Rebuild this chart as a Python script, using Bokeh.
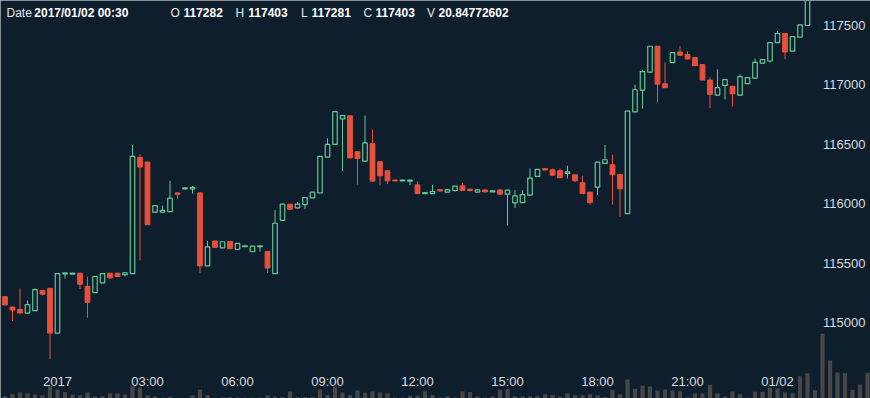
import datetime as dt
import pandas as pd
from bokeh.plotting import figure
from bokeh.models import ColumnDataSource, Range1d, Label, LabelSet
from bokeh.core.properties import value
from bokeh.embed import file_html
from bokeh.resources import INLINE

# ---------------- data (15-minute candles, first candle 2016-12-31 22:15) ----------------
first_candle = "2016-12-31 22:15"

opens = [115221, 115134, 115114, 115083, 115103, 115274, 115291,
         114915, 115412, 115410, 115418, 115308, 115255, 115336, 115418, 115418, 115405,
         115415, 116390, 116351, 115930, 115930, 115935, 116092, 116125, 116125, 116092,
         115479, 115688, 115631, 115685, 115618, 115640, 115598, 115640, 115601, 115415,
         115862, 115997, 115966, 115994, 116050, 116092, 116393, 116499, 116713, 116739,
         116438, 116359, 116505, 116354, 116278, 116200, 116192, 116190, 116160, 116086,
         116086, 116120, 116098, 116112, 116151, 116123, 116098, 116117, 116100, 116117,
         116081, 116008, 116010, 116073, 116230, 116297, 116286, 116278, 116255, 116244,
         116177, 116098, 116140, 116339, 116328, 116247, 115918, 116772, 116955, 117106,
         117323, 117008, 117186, 117275, 117253, 117228, 117169, 117039, 116912, 116994,
         116986, 116912, 117009, 117056, 117182, 117199, 117354, 117430, 117282, 117399,
         117497]
highs = [115225, 115136, 115291, 115190, 115291, 115276, 115293,
         115418, 115420, 115418, 115420, 115390, 115392, 115418, 115420, 115420, 115420,
         116494, 116418, 116353, 115987, 115985, 116193, 116094, 116137, 116150, 116094,
         115688, 115690, 115684, 115687, 115670, 115650, 115647, 115650, 115603, 115949,
         115999, 115999, 116016, 116055, 116100, 116400, 116550, 116777, 116747, 116741,
         116440, 116741, 116623, 116356, 116280, 116202, 116202, 116202, 116188, 116096,
         116160, 116122, 116122, 116151, 116176, 116125, 116119, 116119, 116111, 116119,
         116117, 116115, 116115, 116297, 116291, 116299, 116297, 116295, 116320, 116246,
         116236, 116100, 116353, 116494, 116413, 116249, 116780, 117000, 117121, 117325,
         117325, 117186, 117272, 117326, 117281, 117230, 117171, 117062, 117129, 117044,
         116994, 117087, 117061, 117219, 117213, 117356, 117452, 117432, 117403, 117505,
         117850]
lows = [115150, 115016, 115080, 115080, 115100, 115232, 114695,
        114913, 115373, 115408, 115285, 115044, 115253, 115334, 115373, 115388, 115390,
        115413, 115525, 115823, 115928, 115928, 115933, 116042, 116123, 116087, 115420,
        115477, 115633, 115629, 115621, 115616, 115638, 115596, 115598, 115420, 115413,
        115860, 115953, 115960, 115955, 116048, 116090, 116391, 116497, 116275, 116383,
        116162, 116353, 116189, 116154, 116166, 116190, 116190, 116157, 116084, 116084,
        116084, 116100, 116096, 116103, 116110, 116103, 116096, 116098, 116098, 116079,
        115817, 115966, 116008, 116071, 116228, 116282, 116239, 116217, 116213, 116185,
        116084, 115994, 116075, 116334, 115994, 115890, 115916, 116770, 116800, 117104,
        116853, 116973, 117184, 117245, 117214, 117158, 117037, 116803, 116910, 116876,
        116817, 116910, 117007, 117054, 117174, 117186, 117352, 117216, 117281, 117397,
        117495]
closes = [115151, 115108, 115083, 115154, 115280, 115241, 114915,
          115415, 115420, 115418, 115325, 115173, 115390, 115415, 115378, 115390, 115420,
          116398, 116309, 115825, 115985, 115945, 116048, 116080, 116135, 116138, 115479,
          115639, 115635, 115682, 115623, 115668, 115648, 115645, 115648, 115462, 115837,
          115997, 115955, 115997, 116053, 116098, 116398, 116499, 116775, 116741, 116385,
          116381, 116511, 116191, 116235, 116193, 116192, 116200, 116200, 116086, 116094,
          116103, 116109, 116120, 116149, 116112, 116112, 116117, 116100, 116109, 116081,
          116115, 116067, 116078, 116216, 116289, 116284, 116241, 116219, 116269, 116193,
          116086, 116010, 116351, 116370, 116244, 116126, 116778, 116958, 117110, 117323,
          117005, 116975, 117270, 117247, 117216, 117160, 117039, 116918, 116975, 117042,
          116924, 117068, 117059, 117188, 117211, 117354, 117430, 117275, 117403, 117503,
          117820]
volumes = [9.0, 17.7, 23.6, 19.7, 15.7, 11.8, 49.1,
           35.4, 25.5, 14.5, 12.6, 22.4, 7.9, 9.0, 19.7, 19.7, 15.7,
           47.2, 43.2, 11.8, 7.9, 3.1, 7.1, 1.6, 2.0, 11.8, 35.4,
           13.8, 3.1, 3.9, 4.7, 3.9, 2.8, 3.9, 3.9, 11.8, 7.1,
           5.9, 27.5, 5.1, 5.9, 5.9, 35.4, 13.8, 47.2, 23.6, 13.0,
           31.4, 22.4, 28.3, 23.6, 19.7, 3.9, 3.9, 11.0, 11.0, 29.5,
           13.8, 3.9, 8.6, 3.9, 27.5, 24.8, 7.9, 3.9, 7.9, 34.6,
           37.3, 8.6, 7.9, 8.6, 9.4, 16.5, 13.8, 7.1, 20.4, 13.0,
           13.0, 16.5, 11.8, 5.1, 33.4, 16.5, 74.7, 38.1, 50.3, 47.2,
           31.4, 35.4, 31.4, 28.7, 5.1, 19.7, 19.7, 53.8, 19.7, 7.9,
           27.5, 16.9, 3.9, 26.3, 26.3, 43.2, 39.3, 23.6, 20.85, 87.6,
           99.4, 32.6, 254.3, 149.3, 102.2, 99.4, 34.2, 55.0, 101.0]

price_ticks = [115000, 115500, 116000, 116500, 117000, 117500]
price_tick_labels = ["115000", "115500", "116000", "116500", "117000", "117500"]
time_ticks = ["2017-01-01 00:00", "2017-01-01 03:00", "2017-01-01 06:00",
              "2017-01-01 09:00", "2017-01-01 12:00", "2017-01-01 15:00",
              "2017-01-01 18:00", "2017-01-01 21:00", "2017-01-02 00:00"]
time_tick_labels = ["2017", "03:00", "06:00", "09:00", "12:00", "15:00",
                    "18:00", "21:00", "01/02"]
header_names = ["Date", "O", "H", "L", "C", "V"]
header_values = ["2017/01/02 00:30", "117282", "117403", "117281", "117403", "20.84772602"]

# ---------------- styling ----------------
BG = "#0f1e2d"
UP = "#62c994"
DOWN = "#e8503a"
VOL = "#474747"
TXT = "#d9dcdf"
FONT = "Liberation Sans"
W, H = 870, 398

times = pd.date_range(first_candle, periods=len(opens), freq="15min")
vol_times = pd.date_range(first_candle, periods=len(volumes), freq="15min")
inc = [c >= o for o, c in zip(opens, closes)]

src = ColumnDataSource(dict(
    t=times, open=opens, high=highs, low=lows, close=closes,
    wick=[UP if i else DOWN for i in inc],
))
up_src = ColumnDataSource(dict(
    t=[t for t, i in zip(times, inc) if i],
    top=[c for c, i in zip(closes, inc) if i],
    bottom=[o for o, i in zip(opens, inc) if i],
))
dn_src = ColumnDataSource(dict(
    t=[t for t, i in zip(times, inc) if not i],
    top=[o for o, i in zip(opens, inc) if not i],
    bottom=[c for c, i in zip(closes, inc) if not i],
))
vol_src = ColumnDataSource(dict(t=vol_times, v=volumes))

p = figure(width=W, height=H, x_axis_type="datetime",
           x_axis_location=None, y_axis_location=None,
           output_backend="svg", toolbar_location=None,
           min_border=0, background_fill_color=BG, border_fill_color=BG,
           outline_line_color=None,
           x_range=Range1d(dt.datetime(2016, 12, 31, 22, 6), dt.datetime(2017, 1, 2, 3, 6)),
           y_range=Range1d(114366, 117707))
p.grid.visible = False
p.extra_y_ranges = {"vol": Range1d(0, 1564)}

bar_ms = 15 * 60 * 1000
p.vbar(x="t", top="v", bottom=0, width=bar_ms * 0.56, source=vol_src,
       y_range_name="vol", fill_color=VOL, line_color=None)

p.segment(x0="t", y0="low", x1="t", y1="high", line_color="wick", line_width=1, source=src)
p.vbar(x="t", top="top", bottom="bottom", width=bar_ms * 0.64, source=dn_src,
       fill_color=DOWN, line_color=DOWN, line_width=1)
p.vbar(x="t", top="top", bottom="bottom", width=bar_ms * 0.6, source=up_src,
       fill_color=BG, line_color=UP, line_width=1.2)

# price scale labels (inside the plot, right side)
p.add_layout(LabelSet(x=W - 5, y="y", text="text", x_units="screen", y_units="data",
                      source=ColumnDataSource(dict(y=price_ticks, text=price_tick_labels)),
                      text_align="right", text_baseline="middle",
                      text_font=value(FONT), text_font_size=value("13px"), text_color=TXT))
# time scale labels (inside the plot, bottom)
p.add_layout(LabelSet(x="x", y=12.3, text="text", x_units="data", y_units="screen",
                      source=ColumnDataSource(dict(x=pd.to_datetime(time_ticks), text=time_tick_labels)),
                      text_align="center", text_baseline="alphabetic",
                      text_font=value(FONT), text_font_size=value("13px"), text_color=TXT))

# header line
name_x = [6, 170, 235, 300.5, 363, 426.5]
value_x = [33.8, 183, 247.8, 311, 375, 438]
for n, v, nx, vx in zip(header_names, header_values, name_x, value_x):
    p.add_layout(Label(x=nx, y=H - 12.3, x_units="screen", y_units="screen", text=n,
                       text_baseline="alphabetic", text_font=FONT, text_font_size="12px",
                       text_color="#e4e7ea"))
    p.add_layout(Label(x=vx, y=H - 12.3, x_units="screen", y_units="screen", text=v,
                       text_baseline="alphabetic", text_font=FONT, text_font_size="12px",
                       text_font_style="bold", text_color="#ffffff"))

open("out.html", "w").write(file_html(p, INLINE))
